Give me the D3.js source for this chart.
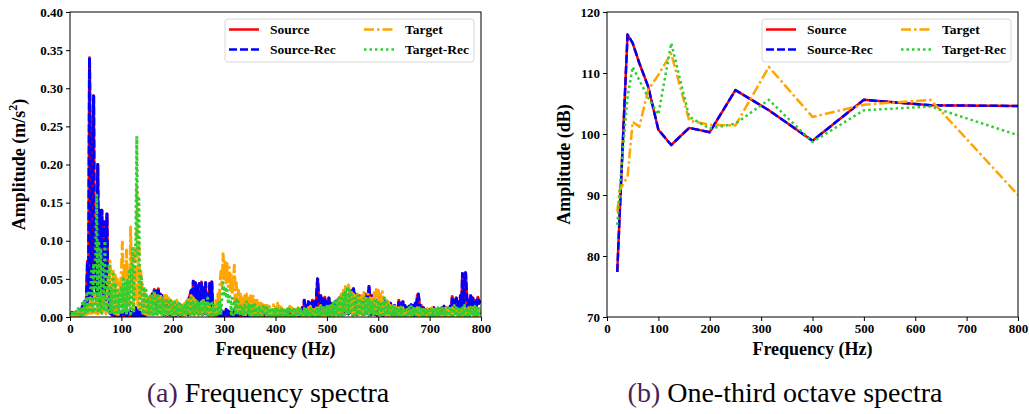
<!DOCTYPE html>
<html><head><meta charset="utf-8">
<script src="https://cdn.jsdelivr.net/npm/d3@7"></script>
<style>
body{margin:0;background:#fff}
svg{display:block}
</style>
</head><body>
<svg id="chart" width="1029" height="414"></svg>
<script>
// ---------- DATA ----------
// (a) Frequency spectra: amplitudes in 10^-3 m/s^2, sampled every 2 Hz from 0 to 798 Hz
const spectrumStepHz = 2;
const sourceAmpMilli = [
4,1,6,2,5,1,7,2,6,3,
10,3,14,4,20,6,24,73,20,340,
150,10,200,290,40,130,20,200,30,140,
15,140,10,125,20,90,135,10,45,5,
12,2,8,1,10,2,6,1,7,2,
5,1,8,2,6,1,5,2,8,1,
6,2,10,1,12,2,8,1,6,2,
5,1,8,2,6,3,12,4,15,5,
30,5,36,8,34,6,37,8,30,6,
28,4,25,3,22,2,20,3,15,2,
12,3,15,2,18,4,14,2,12,3,
15,3,18,4,20,3,25,30,35,5,
47,5,45,8,42,4,44,6,46,3,
38,5,45,4,30,3,44,6,46,3,
10,2,8,1,6,1,5,2,8,1,
6,1,10,2,8,1,6,1,5,2,
8,2,6,1,10,2,8,1,6,2,
6,1,8,2,5,1,7,2,6,1,
8,2,6,1,5,1,8,2,6,1,
5,1,7,2,6,1,8,2,5,1,
6,1,8,2,5,1,7,2,6,1,
8,2,10,3,12,2,10,3,8,2,
6,1,8,2,10,3,12,2,22,4,
15,3,20,4,18,3,22,4,20,3,
30,50,25,4,28,3,24,2,26,4,
20,3,25,4,18,2,15,3,20,4,
22,4,25,3,28,5,22,4,30,5,
25,4,30,6,35,5,37,4,30,3,
25,4,28,5,22,3,26,4,30,5,
25,40,22,3,28,4,24,3,22,2,
20,3,25,4,18,2,22,3,20,2,
15,2,18,3,12,2,15,3,10,1,
22,3,18,2,20,4,15,2,12,1,
14,2,16,3,15,2,18,4,28,30,
18,3,15,2,12,1,10,2,8,1,
10,2,8,1,12,2,9,1,8,2,
10,2,12,3,14,2,12,1,10,2,
14,3,27,4,22,5,25,6,20,5,
28,6,57,8,40,58,30,8,22,6,
28,5,25,4,22,3,20,26,18,22
];
// the reconstruction is visually identical to the source
const sourceRecAmpMilli = sourceAmpMilli.slice();
const targetAmpMilli = [
4,1,5,2,6,1,5,2,6,2,
8,2,10,3,12,3,15,4,18,5,
25,5,20,6,30,5,25,4,20,6,
30,5,25,6,20,4,30,50,40,73,
45,6,60,5,55,4,50,3,45,40,
60,98,20,70,10,88,25,60,15,118,
40,70,10,90,20,170,15,100,10,60,
40,5,35,4,30,3,25,4,28,3,
25,4,30,5,28,3,25,4,30,3,
25,3,30,4,28,3,25,2,22,3,
20,2,18,3,22,2,20,3,18,2,
15,2,18,3,22,2,25,3,28,4,
25,3,22,2,20,3,18,2,20,3,
22,3,18,2,20,3,15,2,14,3,
18,3,22,4,30,5,45,60,40,83,
50,72,45,70,40,65,35,55,30,48,
68,8,45,6,35,5,30,4,25,3,
28,3,30,4,25,3,28,2,30,4,
25,3,22,2,20,3,18,2,16,3,
18,2,15,3,14,2,12,1,16,2,
15,2,18,3,14,2,12,1,10,2,
12,1,10,2,14,1,12,2,10,1,
10,2,12,1,10,2,8,1,12,2,
10,1,12,2,14,1,10,2,12,1,
14,2,12,1,15,2,12,1,10,2,
12,1,14,2,12,1,15,2,12,1,
18,2,25,3,30,4,35,5,40,5,
35,42,30,4,35,5,30,3,28,4,
30,3,25,4,28,3,32,4,28,3,
30,4,25,3,28,4,35,5,36,4,
35,4,30,3,33,4,25,3,22,2,
20,2,15,1,12,2,14,1,12,2,
12,1,10,2,12,1,10,2,9,1,
10,2,12,1,11,2,10,1,12,2,
10,1,12,2,10,1,9,2,11,1,
10,2,12,1,10,2,8,1,10,2,
9,1,11,2,10,1,12,2,9,1,
10,2,12,1,10,2,11,1,10,2,
12,1,10,2,12,1,10,2,12,1,
10,2,12,1,10,2,11,1,10,2
];
const targetRecAmpMilli = [
6,1,8,2,6,1,9,2,11,3,
12,2,18,3,22,4,30,5,35,6,
25,60,5,70,10,80,160,8,100,6,
90,5,70,8,100,6,60,5,70,4,
40,4,60,5,45,3,35,4,30,3,
40,4,50,5,45,3,50,5,60,4,
60,90,5,70,100,237,80,155,10,55,
45,4,40,3,35,2,25,3,30,2,
30,3,35,4,30,2,28,3,25,2,
25,2,22,3,25,2,20,3,22,2,
18,2,20,3,15,2,18,3,16,2,
15,2,18,3,20,2,22,3,25,2,
20,3,18,2,22,3,20,2,18,3,
22,2,18,3,25,2,20,3,18,2,
15,2,14,3,18,2,20,3,30,45,
30,40,25,35,20,30,25,4,28,3,
22,3,25,2,20,3,18,2,15,3,
18,2,20,3,16,2,18,3,15,2,
16,2,14,1,15,2,12,1,14,2,
12,1,14,2,12,1,13,2,11,1,
12,1,10,2,11,1,10,2,12,1,
11,2,12,1,10,2,11,1,10,2,
10,1,11,2,12,1,10,2,11,1,
12,2,10,1,11,2,12,1,10,2,
11,1,12,2,14,1,12,2,15,1,
14,2,16,1,15,2,18,1,20,2,
22,2,25,3,28,2,30,3,35,4,
40,3,35,4,30,2,28,3,25,2,
28,3,25,2,22,3,25,2,22,3,
25,2,22,3,20,2,22,3,20,2,
22,3,20,2,18,3,25,2,20,3,
18,2,15,1,14,2,12,1,14,2,
12,1,13,2,11,1,12,2,10,1,
12,2,14,1,12,2,13,1,11,2,
12,1,10,2,12,1,11,2,10,1,
12,2,10,1,11,2,10,1,12,2,
10,1,12,2,11,1,10,2,12,1,
14,2,12,1,15,2,12,1,13,2,
14,1,12,2,15,1,13,2,12,1,
13,2,12,1,14,2,12,1,11,2
];

// (b) One-third octave spectra (dB)
const octaveFreqs = [20,25,31.5,40,50,63,80,100,125,160,200,250,315,400,500,630,800];
const sourceDb    = [77.4,87.5,100.0,116.3,114.9,111.6,107.8,100.7,98.2,101.0,100.3,107.2,103.9,98.9,105.6,104.7,104.6];
const sourceRecDb = [77.4,87.5,100.0,116.3,114.9,111.6,107.8,100.7,98.2,101.0,100.3,107.2,103.9,98.9,105.6,104.7,104.6];
const targetDb    = [87.3,90.8,91.8,93.0,102.0,101.2,107.2,109.7,113.2,102.2,101.5,101.4,111.0,102.8,104.8,105.6,90.0];
const targetRecDb = [85.1,91.0,98.0,106.0,111.0,108.8,106.0,103.2,114.9,102.8,100.9,101.7,105.6,98.7,103.9,104.5,99.8];

// axis ticks
const freqTicks = [0,100,200,300,400,500,600,700,800];
const ampTicks = [0,0.05,0.10,0.15,0.20,0.25,0.30,0.35,0.40];
const dbTicks = [70,80,90,100,110,120];

const seriesNames = ["Source","Source-Rec","Target","Target-Rec"];
const captions = ["Frequency spectra","One-third octave spectra"];

// ---------- STYLE ----------
const FONT = '"Liberation Serif", "Times New Roman", serif';
const styles = {
  "Source":     {color:"#ff0000", dash:null},
  "Source-Rec": {color:"#0000ff", dash:"8,3"},
  "Target":     {color:"#ffa500", dash:"10,3,2.5,3"},
  "Target-Rec": {color:"#32cd32", dash:"2.5,3"}
};

const svg = d3.select("#chart");

function drawPanel(opts){
  const g = svg.append("g");
  const x = d3.scaleLinear().domain([0,800]).range([opts.x0, opts.x1]);
  const y = d3.scaleLinear().domain(opts.yDomain).range([opts.y1, opts.y0]);

  const clipId = "clip"+opts.id;
  svg.append("clipPath").attr("id",clipId).append("rect")
    .attr("x",opts.x0).attr("y",opts.y0).attr("width",opts.x1-opts.x0).attr("height",opts.y1-opts.y0);

  const line = d3.line().x(d=>x(d[0])).y(d=>y(d[1]));
  const lg = g.append("g").attr("clip-path",`url(#${clipId})`);
  opts.series.forEach(s=>{
    const st = styles[s.name];
    lg.append("path").datum(s.points)
      .attr("d",line).attr("fill","none")
      .attr("stroke",st.color).attr("stroke-width",opts.lw)
      .attr("stroke-linejoin","round")
      .attr("stroke-dasharray",st.dash);
  });

  const xAxis = d3.axisBottom(x).tickValues(freqTicks).tickFormat(d3.format("d")).tickSize(4).tickPadding(3);
  const yAxis = d3.axisLeft(y).tickValues(opts.yTicks).tickFormat(opts.yFormat).tickSize(4).tickPadding(3);
  const gx = g.append("g").attr("transform",`translate(0,${opts.y1})`).call(xAxis);
  const gy = g.append("g").attr("transform",`translate(${opts.x0},0)`).call(yAxis);
  [gx,gy].forEach(a=>{
    a.select(".domain").remove();
    a.selectAll("text").style("font-family",FONT).attr("font-weight","bold").attr("font-size","13px").attr("fill","#000");
    a.selectAll("line").attr("stroke","#000");
  });
  g.append("rect").attr("x",opts.x0).attr("y",opts.y0).attr("width",opts.x1-opts.x0).attr("height",opts.y1-opts.y0)
    .attr("fill","none").attr("stroke","#000").attr("stroke-width",1);

  g.append("text").attr("x",(opts.x0+opts.x1)/2).attr("y",355).attr("text-anchor","middle")
    .style("font-family",FONT).attr("font-weight","bold").attr("font-size","18px").text("Frequency (Hz)");
  const yt = g.append("text").attr("transform",`translate(${opts.yTitleX},${(opts.y0+opts.y1)/2}) rotate(-90)`)
    .style("font-family",FONT).attr("text-anchor","middle").attr("font-weight","bold").attr("font-size","18px");
  opts.yTitle(yt);

  const L = opts.legend;
  g.append("rect").attr("x",L.x).attr("y",L.y).attr("width",L.w).attr("height",L.h).attr("rx",3)
    .attr("fill","#fff").attr("fill-opacity",0.85).attr("stroke","#d9d9d9").attr("stroke-width",1);
  seriesNames.forEach((n,i)=>{
    const col = Math.floor(i/2), row = i%2;
    const sx = L.x + 4 + col*L.colW;
    const sy = L.y + 10.5 + row*20;
    const st = styles[n];
    g.append("line").attr("x1",sx).attr("x2",sx+30).attr("y1",sy).attr("y2",sy)
      .attr("stroke",st.color).attr("stroke-width",2.5).attr("stroke-dasharray",st.dash);
    g.append("text").attr("x",sx+41).attr("y",sy+4.5).style("font-family",FONT)
      .attr("font-weight","bold").attr("font-size","13.5px").text(n);
  });

  const cap = g.append("text").attr("x",opts.capX).attr("y",402).attr("text-anchor","middle")
    .style("font-family",FONT).attr("font-size","28px");
  cap.append("tspan").attr("fill","#4a1f55").text(opts.capLabel+" ");
  cap.append("tspan").attr("fill","#000").text(opts.caption);
}

const specPoints = arr => arr.map((v,i)=>[i*spectrumStepHz, v/1000]);
const octPoints = arr => arr.map((v,i)=>[octaveFreqs[i], v]);

drawPanel({
  id:"a", x0:70, x1:481, y0:12, y1:317, yDomain:[0,0.40], yTicks:ampTicks, yFormat:d3.format(".2f"), lw:3,
  series:[
    {name:"Source", points:specPoints(sourceAmpMilli)},
    {name:"Source-Rec", points:specPoints(sourceRecAmpMilli)},
    {name:"Target", points:specPoints(targetAmpMilli)},
    {name:"Target-Rec", points:specPoints(targetRecAmpMilli)}
  ],
  yTitleX:25,
  yTitle: t=>{ t.append("tspan").text("Amplitude (m/s"); t.append("tspan").attr("dy","-8").attr("font-size","12px").text("2"); t.append("tspan").attr("dy","8").text(")"); },
  legend:{x:225,y:19,w:249,h:43,colW:135},
  capX:268, capLabel:"(a)", caption:captions[0]
});

drawPanel({
  id:"b", x0:607, x1:1018, y0:12, y1:317, yDomain:[70,120], yTicks:dbTicks, yFormat:d3.format("d"), lw:2.5,
  series:[
    {name:"Source", points:octPoints(sourceDb)},
    {name:"Source-Rec", points:octPoints(sourceRecDb)},
    {name:"Target", points:octPoints(targetDb)},
    {name:"Target-Rec", points:octPoints(targetRecDb)}
  ],
  yTitleX:570,
  yTitle: t=>{ t.text("Amplitude (dB)"); },
  legend:{x:762,y:19,w:249,h:43,colW:135},
  capX:785, capLabel:"(b)", caption:captions[1]
});
</script>
</body></html>
